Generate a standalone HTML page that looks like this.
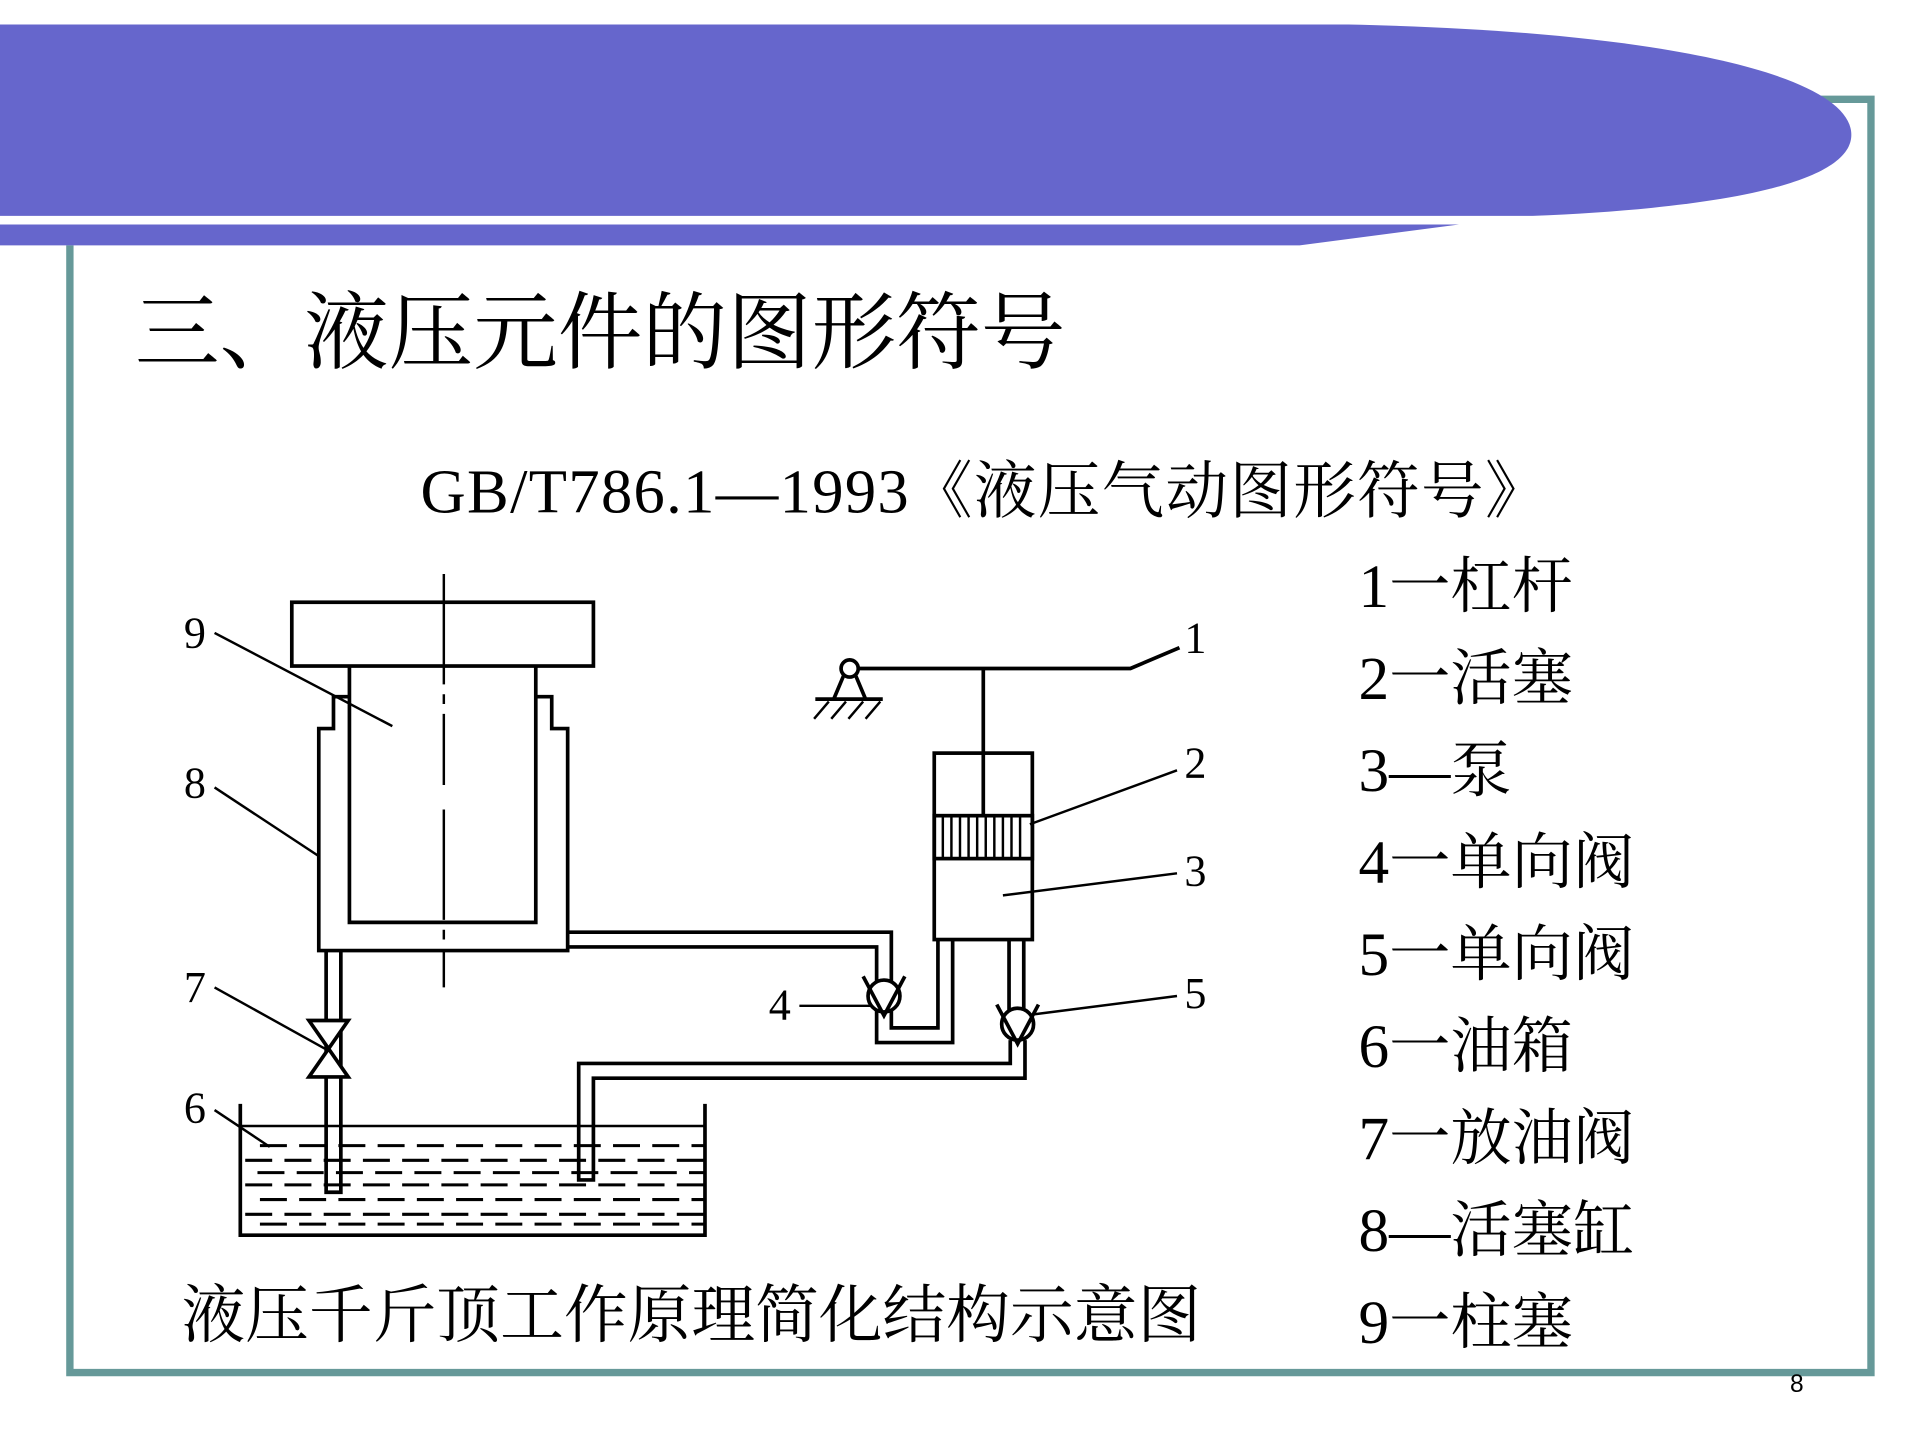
<!DOCTYPE html>
<html><head><meta charset="utf-8"><style>
html,body{margin:0;padding:0;background:#fff;}
svg{display:block;}
.s{font-family:"Liberation Serif","Noto Serif CJK SC",serif;fill:#000;}
</style></head><body>
<svg width="1920" height="1440" viewBox="0 0 1566 1174" preserveAspectRatio="none" xmlns="http://www.w3.org/2000/svg">
<rect width="1566" height="1174" fill="#fff"/>
<path d="M57 200 V1119 H1526 V81 H1480" fill="none" stroke="#669999" stroke-width="6"/>
<path d="M0 20 H1100 C1350 25 1510 60 1510 110 C1510 150 1400 170 1250 176 H0 Z" fill="#6666CC"/>
<path d="M0 183 H1190 L1060 200 H0 Z" fill="#6666CC"/>
<text class="s" x="110" y="295" font-size="69">三、液压元件的图形符号</text>
<text class="s" x="343" y="418" font-size="51" letter-spacing="1.1">GB/T786.1—1993《液压气动图形符号》</text>
<g class="s" font-size="50">
<text x="1108" y="495">1一杠杆</text>
<text x="1108" y="570">2一活塞</text>
<text x="1108" y="645">3—泵</text>
<text x="1108" y="720">4一单向阀</text>
<text x="1108" y="795">5一单向阀</text>
<text x="1108" y="870">6一油箱</text>
<text x="1108" y="945">7一放油阀</text>
<text x="1108" y="1020">8—活塞缸</text>
<text x="1108" y="1095">9一柱塞</text>
</g>
<text class="s" x="148" y="1090" font-size="52">液压千斤顶工作原理简化结构示意图</text>
<text x="1460" y="1135" font-size="20" font-family="'Liberation Sans',sans-serif">8</text>
<g fill="none" stroke="#000" stroke-width="3">
<rect x="238" y="491" width="246" height="52"/>
<path d="M285 543 V752 H437 V543"/>
<path d="M285 568 H272 V594 H260 V775 H463 V594 H450 V568 H437"/>
<path d="M362 468 V640 M362 660 V805" stroke-width="2" stroke-dasharray="90 8 8 8"/>
<path d="M463 760 H727 V800 M463 772 H715 V800"/>
<circle cx="721" cy="812" r="13"/>
<path d="M704 796 L721 828 L738 796"/>
<path d="M715 824 V850 H777 V766 M727 824 V838 H765 V766"/>
<rect x="762" y="614" width="80" height="152"/>
<rect x="762" y="665" width="80" height="35"/>
<path d="M769 665 V700 M776 665 V700 M783 665 V700 M790 665 V700 M797 665 V700 M804 665 V700 M811 665 V700 M818 665 V700 M825 665 V700 M832 665 V700" stroke-width="2"/>
<path d="M802 545 V665"/>
<path d="M823 766 V823 M835 766 V823"/>
<circle cx="830" cy="835" r="13"/>
<path d="M813 819 L830 851 L847 819"/>
<path d="M824 848 V867 H472 V962 H484 V879 H836 V848"/>
<path d="M700 545 H922 L962 528"/>
<circle cx="693" cy="545" r="7"/>
<path d="M688 551 L680 570 M698 551 L706 570 M665 570 H720"/>
<path d="M676 572 L664 586 M690 572 L678 586 M704 572 L692 586 M718 572 L706 586" stroke-width="2"/>
<path d="M266 775 V972 H278 V775"/>
<path d="M252 832 H284 L252 878 H284 Z" fill="#fff"/>
<path d="M196 900 V1007 H575 V900"/>
<path d="M196 918 H575" stroke-width="2"/>
<g stroke-width="2.5" stroke-dasharray="22 10">
<path d="M212 934 H575"/><path d="M200 946 H575"/><path d="M210 956 H575"/>
<path d="M200 966 H575"/><path d="M212 978 H575"/><path d="M200 990 H575"/><path d="M212 998 H575"/>
</g>
<g stroke-width="2">
<path d="M175 516 L320 592"/><path d="M175 642 L260 698"/><path d="M175 805 L265 855"/>
<path d="M175 905 L220 935"/><path d="M652 820 H710"/><path d="M960 628 L840 672"/>
<path d="M960 712 L818 730"/><path d="M960 812 L843 827"/>
</g>
</g>
<g class="s" font-size="36">
<text x="150" y="528">9</text><text x="150" y="650">8</text><text x="150" y="817">7</text>
<text x="150" y="915">6</text><text x="627" y="831">4</text><text x="966" y="532">1</text>
<text x="966" y="634">2</text><text x="966" y="722">3</text><text x="966" y="822">5</text>
</g>
</svg>
</body></html>
